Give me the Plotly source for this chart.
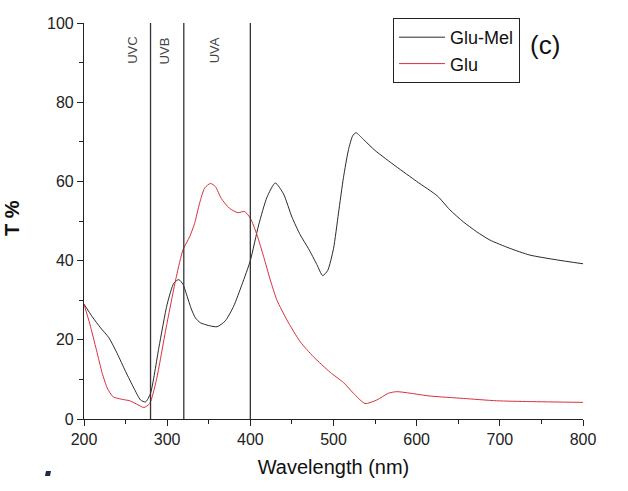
import plotly.graph_objects as go

# Transmittance spectra (T %) vs wavelength (nm)
glu_mel_wl = [200, 210, 220, 230, 240, 250, 260, 268, 274, 280, 290, 300, 308, 314, 319,
              324, 329, 334, 340, 350, 360, 370, 380, 390, 400, 410, 420, 430, 440, 450, 460, 470,
              480, 487, 493, 500, 506, 512, 518, 523, 527, 536, 550, 575, 600, 625, 640, 656,
              672, 688, 712, 736, 768, 800]
glu_mel_t = [29.0, 25.8, 23.0, 20.5, 16.5, 12.0, 7.8, 4.8, 4.3, 6.5, 18.0, 29.0, 34.3, 35.2, 34.0,
             31.0, 27.8, 25.5, 24.3, 23.6, 23.3, 24.8, 28.5, 34.0, 40.0, 49.0, 56.0, 59.6, 56.8, 51.0,
             46.5, 43.0, 39.0, 36.2, 37.5, 43.0, 52.0, 61.0, 68.0, 71.5, 72.3, 70.6, 67.8, 63.8, 60.0,
             56.3, 52.8, 49.8, 47.3, 45.2, 43.1, 41.4, 40.2, 39.2]

glu_wl = [200, 207, 215, 222, 228, 235, 245, 255, 263, 272, 279, 287, 299, 311, 319,
          327, 333, 339, 345, 352, 358, 365, 375, 385, 393, 400, 408, 416, 424, 432,
          444, 460, 476, 496, 512, 524, 538, 552, 566, 576, 616, 656, 696, 736, 800]
glu_t = [29.0, 24.0, 17.4, 11.5, 7.8, 5.6, 5.0, 4.6, 3.8, 2.9, 3.9, 9.8, 23.3, 35.9, 42.7,
         46.0, 49.4, 54.5, 58.3, 59.5, 58.7, 55.7, 53.2, 52.1, 52.4, 50.7, 46.5, 41.0, 35.1, 30.0,
         25.0, 19.5, 15.7, 11.8, 9.2, 6.5, 3.9, 4.8, 6.5, 6.9, 5.8, 5.2, 4.6, 4.4, 4.2]

# UV band boundaries and their labels
uv_edges = [280, 320, 400]
uv_labels = ["UVC", "UVB", "UVA"]
uv_label_pos = [259, 297, 357]

x_ticks = [200, 300, 400, 500, 600, 700, 800]
y_ticks = [0, 20, 40, 60, 80, 100]

FONT = "Liberation Sans, Arial, sans-serif"

# plot area in pixels: left 84, right 583, top 23, bottom 419
PL, PR, PT, PB = 84, 583, 23, 419


def px(xp):
    return (xp - PL) / (PR - PL)


def py(yp):
    return (PB - yp) / (PB - PT)


fig = go.Figure()
fig.add_trace(go.Scatter(
    x=glu_mel_wl, y=glu_mel_t, name="Glu-Mel", mode="lines",
    line=dict(color="#2a2a2a", width=1, shape="spline", smoothing=0.6),
))
fig.add_trace(go.Scatter(
    x=glu_wl, y=glu_t, name="Glu", mode="lines",
    line=dict(color="#d9303c", width=1, shape="spline", smoothing=0.6),
))

for edge in uv_edges:
    fig.add_shape(type="line", xref="x", yref="y", x0=edge, x1=edge, y0=0, y1=100,
                  line=dict(color="#333333", width=1.3))

for label, pos in zip(uv_labels, uv_label_pos):
    fig.add_annotation(x=pos, y=93, xref="x", yref="y", text=label, showarrow=False,
                       textangle=-90, xanchor="center", yanchor="middle",
                       font=dict(family=FONT, size=13, color="#444444"))

fig.add_annotation(xref="paper", yref="paper", x=px(545), y=py(45), text="(c)",
                   showarrow=False, xanchor="center", yanchor="middle",
                   font=dict(family=FONT, size=26, color="#111111"))

# y-axis title near the left page edge
fig.add_annotation(xref="paper", yref="paper", x=px(12), y=py(218),
                   xanchor="center", yanchor="middle",
                   text="<b>T %</b>", showarrow=False, textangle=-90,
                   font=dict(family=FONT, size=20, color="#111111"))

# small dark mark below the axis
fig.add_shape(type="path", xref="paper", yref="paper",
              path="M {:.4f} {:.4f} L {:.4f} {:.4f} L {:.4f} {:.4f} L {:.4f} {:.4f} Z".format(
                  px(45), py(476), px(50), py(476), px(51), py(471), px(46), py(471)),
              fillcolor="#1c2c50", line=dict(width=0))

fig.update_layout(
    width=628, height=491,
    margin=dict(l=PL, r=628 - PR, t=PT, b=491 - PB),
    paper_bgcolor="white", plot_bgcolor="white",
    font=dict(family=FONT, color="#222222"),
    legend=dict(
        x=px(393), y=py(18), xanchor="left", yanchor="top",
        bordercolor="#222222", borderwidth=1, bgcolor="white",
        font=dict(family=FONT, size=18, color="#111111"),
        itemwidth=46,
    ),
    xaxis=dict(
        range=[200, 800], tickvals=x_ticks, showgrid=False, zeroline=False,
        showline=True, linecolor="#222222", linewidth=1.2,
        ticks="outside", ticklen=6, tickcolor="#222222", tickwidth=1.2,
        minor=dict(ticks="outside", ticklen=4, tickcolor="#222222", dtick=50, tick0=200),
        tickfont=dict(family=FONT, size=16, color="#222222"),
        title=dict(text="Wavelength (nm)", font=dict(family=FONT, size=20, color="#111111"),
                   standoff=12),
    ),
    yaxis=dict(
        range=[0, 100], tickvals=y_ticks, showgrid=False, zeroline=False,
        showline=True, linecolor="#222222", linewidth=1.2,
        ticks="outside", ticklen=6, tickcolor="#222222", tickwidth=1.2,
        minor=dict(ticks="outside", ticklen=4, tickcolor="#222222", dtick=10, tick0=0),
        tickfont=dict(family=FONT, size=16, color="#222222"),
    ),
)

fig.write_html("out.html")
